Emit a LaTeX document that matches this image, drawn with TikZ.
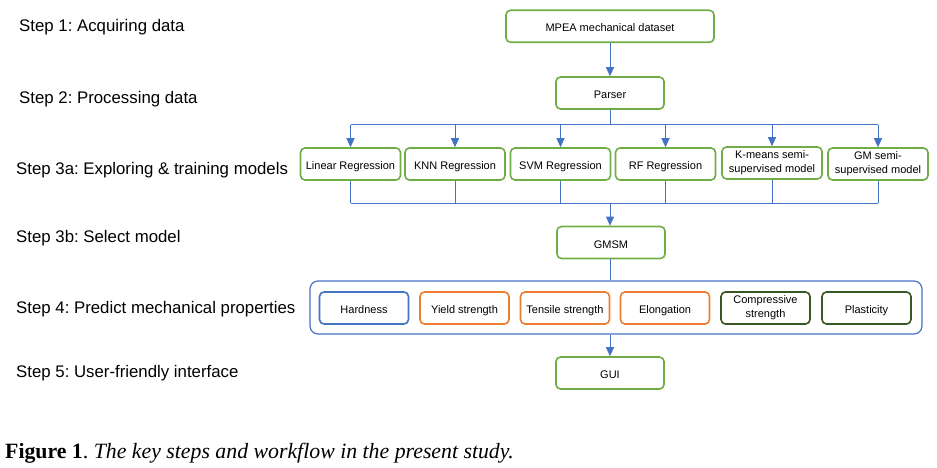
\documentclass[tikz,border=0pt]{standalone}
\usepackage{fontspec}
\setmainfont{Liberation Sans}
\newfontfamily\capfont{Liberation Serif}
\usetikzlibrary{arrows.meta}
\definecolor{cgreen}{HTML}{70AD47}
\definecolor{cblue}{HTML}{4472C4}
\definecolor{corange}{HTML}{ED7D31}
\definecolor{cdgreen}{HTML}{385723}
\frenchspacing
\newcommand{\twolines}[2]{\raisebox{-3pt}{\begin{tabular}{@{}c@{}}#1\\#2\end{tabular}}}
\tikzset{
  box/.style={draw, rounded corners=4.5pt, line width=1.6pt, minimum height=32pt,
    align=center, inner sep=1pt, text height=11pt, text depth=0pt,
    font=\fontsize{11}{13.7}\selectfont, text=black},
  twoline/.style={text height={}, text depth={}},
  gbox/.style={box, draw=cgreen},
  ibox/.style={box, minimum width=89pt},
  steplabel/.style={anchor=base west, inner sep=0pt, font=\fontsize{16.8}{19}\selectfont},
  conn/.style={draw=cblue, line width=1pt},
  arr/.style={conn, -{Triangle[length=9pt,width=8pt]}},
}
\begin{document}
\begin{tikzpicture}[x=1pt,y=-1pt]
\useasboundingbox (0,0) rectangle (937,468);
% step labels
\node[steplabel] (s1) at (19,32) {Step 1: Acquiring data};
\node[steplabel] (s2) at (19,104) {Step 2: Processing data};
\node[steplabel] (s3a) at (16,174.5) {Step 3a: Exploring \& training models};
\node[steplabel] (s3b) at (16,242) {Step 3b: Select model};
\node[steplabel] (s4) at (16,313) {Step 4: Predict mechanical properties};
\node[steplabel] (s5) at (16,377) {Step 5: User-friendly interface};
% main boxes
\node[gbox, minimum width=208pt] (mpea) at (610,26.3) {MPEA mechanical dataset};
\node[gbox, minimum width=108pt] (parser) at (610,93) {Parser};
\node[gbox, minimum width=100pt] (m1) at (350.5,164) {Linear Regression};
\node[gbox, minimum width=100pt] (m2) at (455,164) {KNN Regression};
\node[gbox, minimum width=100pt] (m3) at (560.5,164) {SVM Regression};
\node[gbox, minimum width=100pt] (m4) at (665.5,164) {RF Regression};
\node[gbox, twoline, minimum width=100pt] (m5) at (772,163) {\twolines{K-means semi-}{supervised model}};
\node[gbox, twoline, minimum width=100pt] (m6) at (878,164) {\twolines{GM semi-}{supervised model}};
\node[gbox, minimum width=108pt] (gmsm) at (611,242.5) {GMSM};
\node[draw=cblue, rounded corners=8pt, line width=1.2pt, minimum width=612pt, minimum height=53pt] (outer) at (616,307.5) {};
\node[ibox, draw=cblue] (p1) at (364,308) {Hardness};
\node[ibox, draw=corange] (p2) at (464.5,308) {Yield strength};
\node[ibox, draw=corange] (p3) at (565,308) {Tensile strength};
\node[ibox, draw=corange] (p4) at (665,308) {Elongation};
\node[ibox, twoline, draw=cdgreen] (p5) at (765.5,308) {\twolines{Compressive}{strength}};
\node[ibox, draw=cdgreen] (p6) at (866.5,308) {Plasticity};
\node[gbox, minimum width=108pt] (gui) at (610,373) {GUI};
% connectors
\draw[arr] (mpea.south) -- (parser.north);
\coordinate (bt) at (610,125);
\coordinate (bb) at (610,203);
\draw[conn] (parser.south) -- (bt);
\draw[conn] (m1.north |- bt) -- (m6.north |- bt);
\foreach \m in {m1,m2,m3,m4,m5,m6}{
  \draw[arr] (\m.north |- bt) -- (\m.north);
  \draw[conn] (\m.south) -- (\m.south |- bb);
}
\draw[conn] (m1.south |- bb) -- (m6.south |- bb);
\draw[arr] (bb) -- (bb |- gmsm.north);
\draw[conn] (bb |- gmsm.south) -- (bb |- outer.north);
\draw[arr] (bb |- outer.south) -- (bb |- gui.north);
% caption
\node[anchor=base west, inner sep=0pt, font=\capfont\fontsize{21.8}{26}\selectfont] (cap) at (5,458)
  {\textbf{Figure 1}. \textit{The key steps and workflow in the present study.}};
\end{tikzpicture}
\end{document}
